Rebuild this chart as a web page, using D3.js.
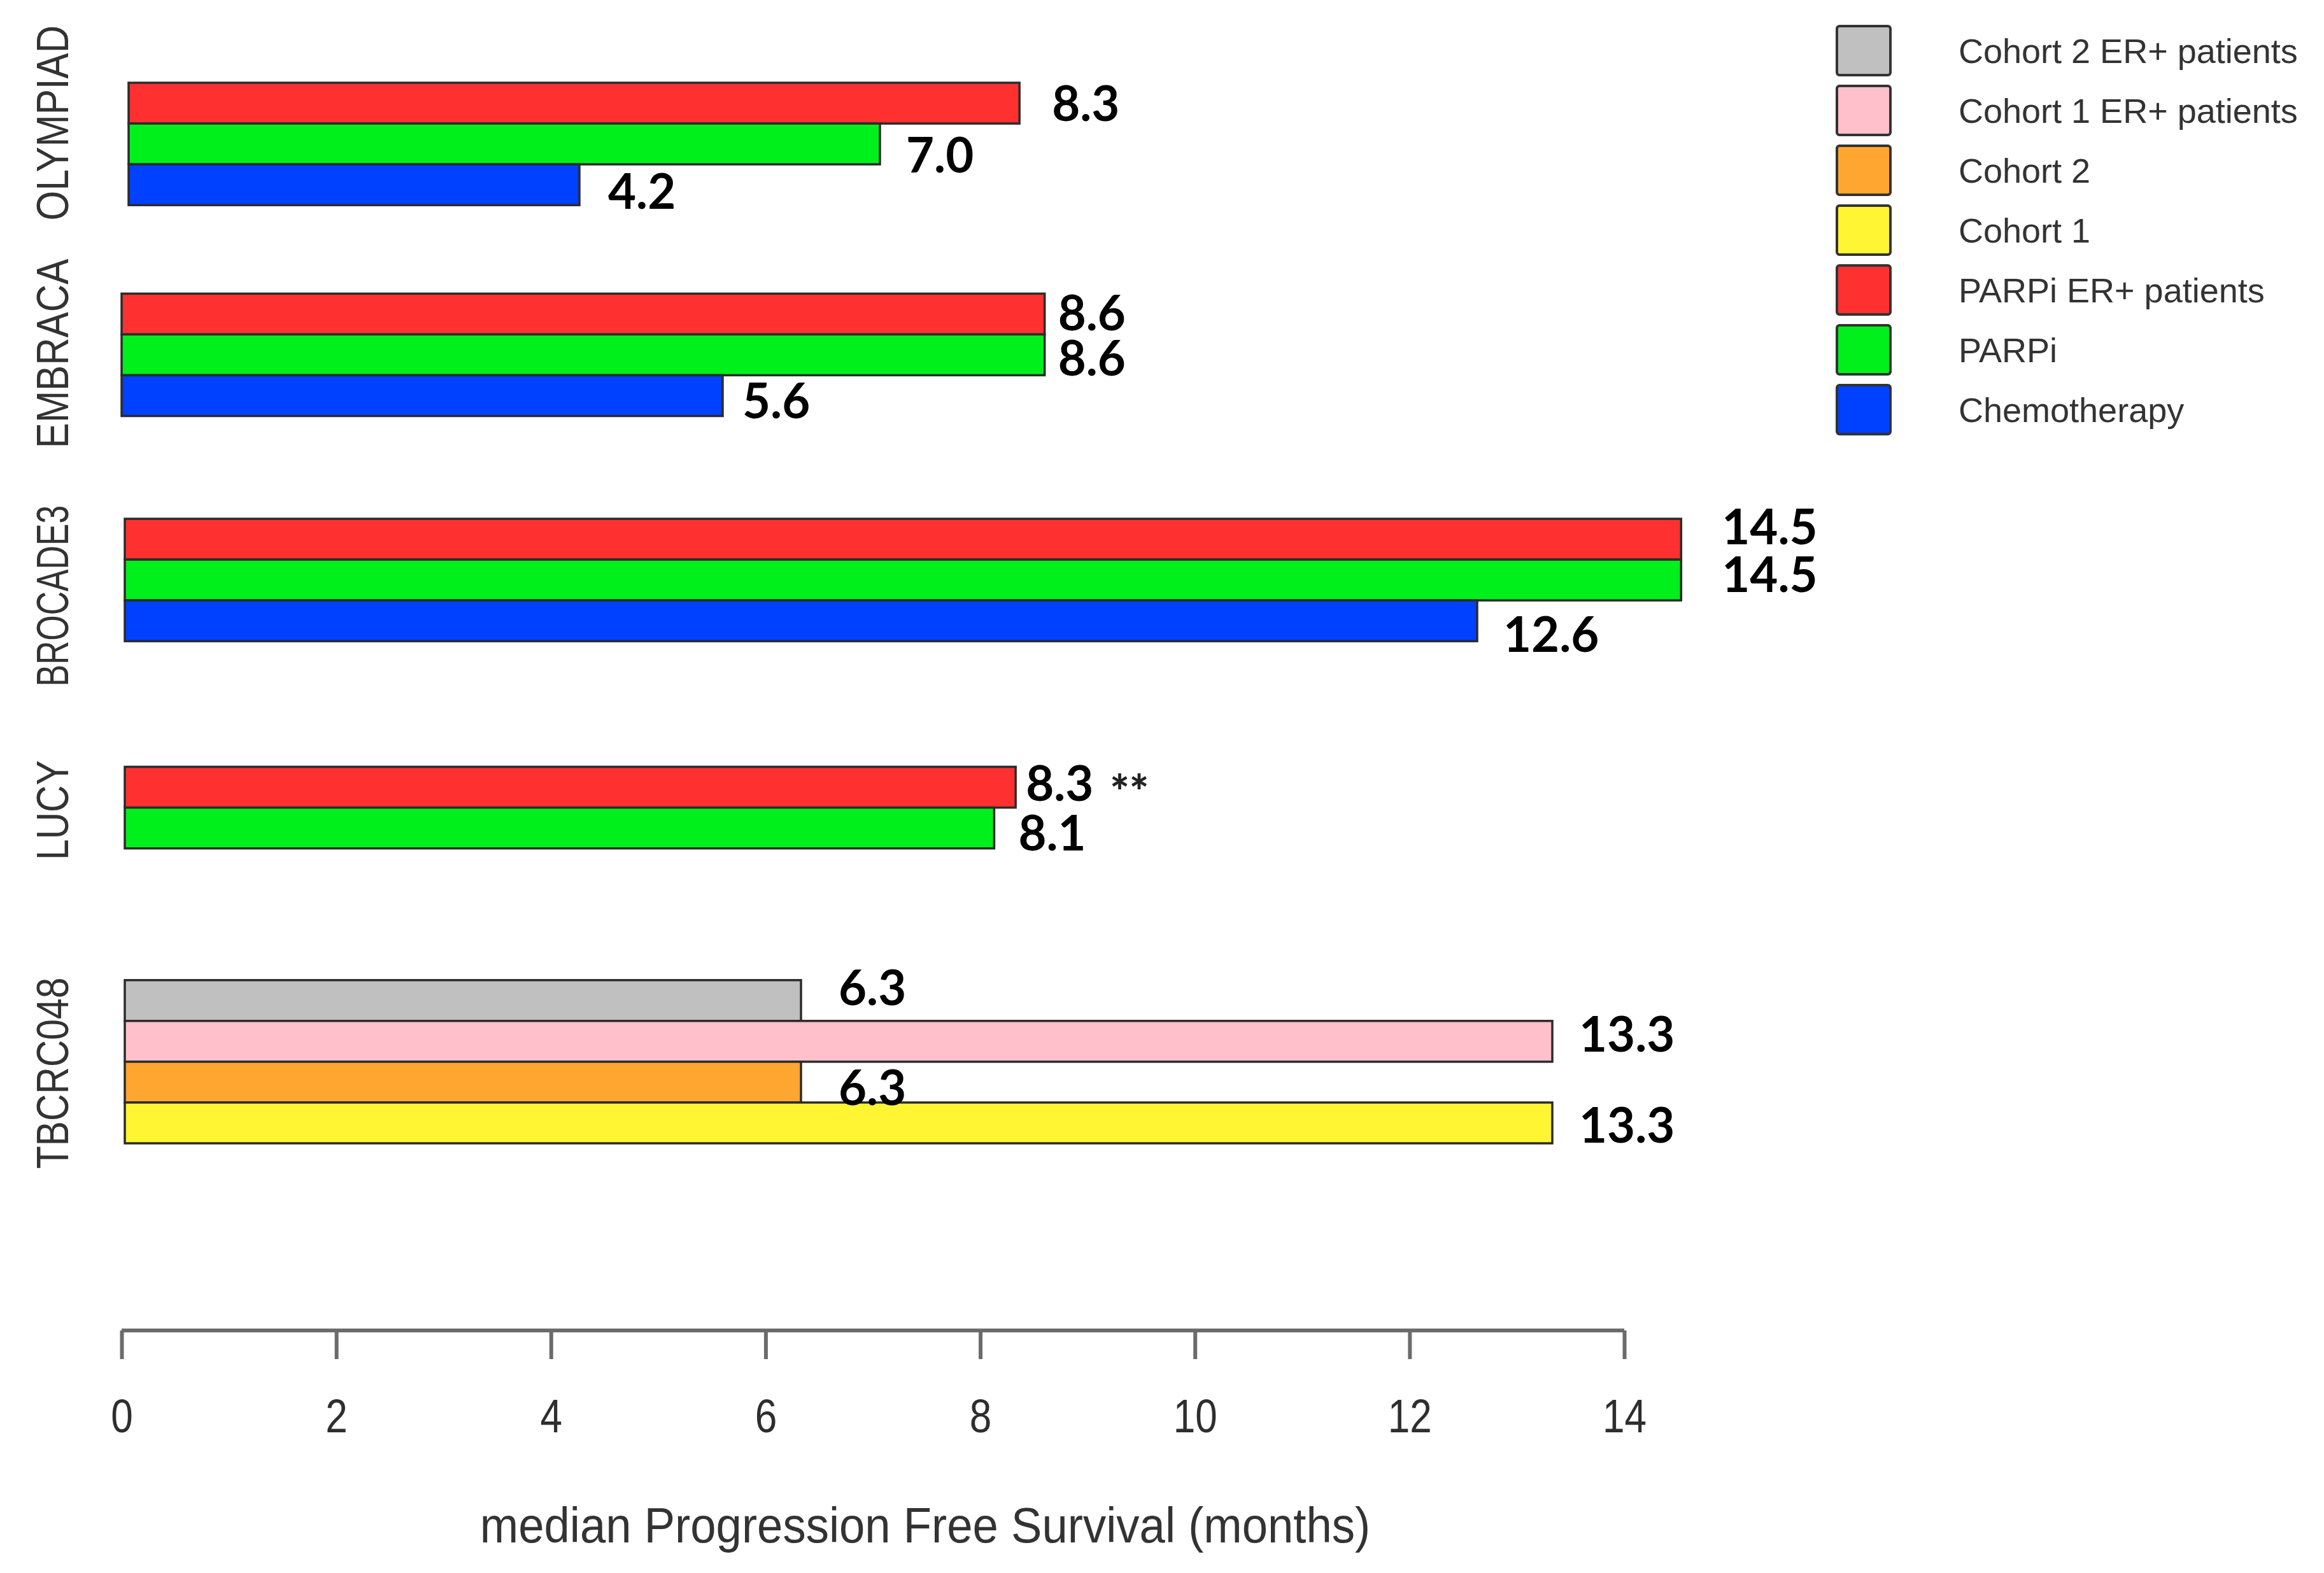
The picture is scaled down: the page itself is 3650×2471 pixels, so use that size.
<!DOCTYPE html>
<html>
<head>
<meta charset="utf-8">
<script src="https://cdn.jsdelivr.net/npm/d3@7"></script>
<style>
  html, body { margin: 0; padding: 0; background: #fff; }
  svg { display: block; }
</style>
</head>
<body>
<div id="chart"></div>
<script>
/* median PFS by trial — horizontal grouped bars */

// Trials, top to bottom
var STUDIES = ["OLYMPIAD", "EMBRACA", "BROCADE3", "LUCY", "TBCRC048"];

// Series shown in each trial (bar order top to bottom)
var STUDY_SERIES = [
  ["PARPi ER+ patients", "PARPi", "Chemotherapy"],
  ["PARPi ER+ patients", "PARPi", "Chemotherapy"],
  ["PARPi ER+ patients", "PARPi", "Chemotherapy"],
  ["PARPi ER+ patients", "PARPi"],
  ["Cohort 2 ER+ patients", "Cohort 1 ER+ patients", "Cohort 2", "Cohort 1"]
];

// median PFS in months, same order as STUDY_SERIES
var STUDY_VALUES = [
  [8.3, 7.0, 4.2],
  [8.6, 8.6, 5.6],
  [14.5, 14.5, 12.6],
  [8.3, 8.1],
  [6.3, 13.3, 6.3, 13.3]
];

// footnote marks next to a value ("" = none)
var STUDY_NOTES = [
  ["", "", ""],
  ["", "", ""],
  ["", "", ""],
  ["**", ""],
  ["", "", "", ""]
];

// legend order
var LEGEND_SERIES = ["Cohort 2 ER+ patients", "Cohort 1 ER+ patients", "Cohort 2", "Cohort 1",
                     "PARPi ER+ patients", "PARPi", "Chemotherapy"];

var X_TICKS = [0, 2, 4, 6, 8, 10, 12, 14];
var X_TITLE = "median Progression Free Survival (months)";

// ---- styling / layout (not data) ----
var COLORS = {
  "Cohort 2 ER+ patients": "#c0c0c0",
  "Cohort 1 ER+ patients": "#ffc0cb",
  "Cohort 2": "#ffa630",
  "Cohort 1": "#fff533",
  "PARPi ER+ patients": "#ff3030",
  "PARPi": "#00f01c",
  "Chemotherapy": "#0040ff"
};
// empty rows (in bar heights) after each trial
var GROUP_GAPS = [2.17, 2.52, 3.08, 3.23, 0];
// the panels were pasted together slightly off the axis zero (px)
var STUDY_X_SHIFT = [11, 0, 5, 5, 5];
// hand nudges of the annotations, [dx, dy] in px
var LABEL_NUDGE = [
  [[51, 0], [41, 17], [45, 10]],
  [[21, -2], [21, 5], [31, 8]],
  [[64, -20], [64, -9], [41, 21]],
  [[16, -7], [38, 7]],
  [[59, -21], [42, -12], [59, 8], [42, 3]]
];
var STUDY_LABEL_NUDGE = [-33, -2, 25, 4, 18];
var STUDY_LABEL_SQUEEZE = [0.86, 0.86, 0.74, 0.84, 0.84];

var W = 3650, H = 2471;
var FONT = "'Liberation Sans', Arial, Helvetica, sans-serif";
var NUM_FONT = "Lato, 'Open Sans', 'Liberation Sans', sans-serif";

var svg = d3.select("#chart").append("svg")
  .attr("width", W).attr("height", H)
  .attr("viewBox", "0 0 " + W + " " + H)
  .style("background", "#fff");

var x = d3.scaleLinear().domain([0, 14]).range([191, 2551]);

// row layout: each bar is one row, gaps between trials
var rowStart = [];
var row = 0;
STUDIES.forEach(function(s, i) {
  rowStart.push(row);
  row += STUDY_VALUES[i].length + GROUP_GAPS[i];
});
var y = d3.scaleLinear().domain([0, row]).range([130, 1796]);
var barH = y(1) - y(0);

var bars = svg.append("g").attr("class", "bars");
var labels = svg.append("g").attr("class", "labels");

STUDIES.forEach(function(study, i) {
  var vals = STUDY_VALUES[i];
  var sx = STUDY_X_SHIFT[i];
  var g = bars.append("g").attr("class", "study")
    .attr("transform", "translate(" + sx + ",0)");

  g.selectAll("rect")
    .data(vals)
    .enter().append("rect")
    .attr("x", x(0))
    .attr("y", function(d, j) { return y(rowStart[i] + j); })
    .attr("width", function(d) { return x(d) - x(0); })
    .attr("height", barH)
    .attr("fill", function(d, j) { return COLORS[STUDY_SERIES[i][j]]; })
    .attr("stroke", "#2b2b2b")
    .attr("stroke-width", 3.5);

  // value labels
  vals.forEach(function(v, j) {
    var nud = LABEL_NUDGE[i][j];
    var cy = y(rowStart[i] + j + 0.5) + nud[1];
    var tx = x(v) + sx + nud[0];
    labels.append("text")
      .attr("x", tx)
      .attr("y", cy + 28)
      .attr("font-family", NUM_FONT)
      .attr("font-weight", 700)
      .attr("font-size", 76)
      .attr("fill", "#000")
      .text(d3.format(".1f")(v));
    if (STUDY_NOTES[i][j]) {
      labels.append("text")
        .attr("x", tx + 132)
        .attr("y", cy + 40)
        .attr("font-family", NUM_FONT)
        .attr("font-weight", 900)
        .attr("font-size", 72)
        .attr("fill", "#222")
        .text(STUDY_NOTES[i][j]);
    }
  });

  // rotated trial name
  var cyLab = y(rowStart[i] + vals.length / 2) + STUDY_LABEL_NUDGE[i];
  svg.append("text")
    .attr("transform", "translate(82," + cyLab + ") rotate(-90) scale(" + STUDY_LABEL_SQUEEZE[i] + ",1)")
    .attr("text-anchor", "middle")
    .attr("dy", "0.36em")
    .attr("font-family", FONT)
    .attr("font-size", 70)
    .attr("fill", "#333")
    .text(study);
});

// x axis (R style: detached, ticks pointing down)
var axisY = 2090;
var axis = d3.axisBottom(x).tickValues(X_TICKS).tickSize(45).tickPadding(62).tickSizeOuter(0)
  .tickFormat(d3.format("d"));
var ax = svg.append("g").attr("transform", "translate(0," + axisY + ")").call(axis);
ax.select(".domain").attr("stroke", "#6b6b6b").attr("stroke-width", 6)
  .attr("d", "M" + x(0) + ",0H" + x(14));
ax.selectAll(".tick line").attr("stroke", "#6b6b6b").attr("stroke-width", 6);
ax.selectAll(".tick text")
  .attr("font-family", FONT)
  .attr("font-size", 74)
  .attr("fill", "#2e2e2e")
  .attr("transform", "scale(0.84,1)");

svg.append("text")
  .attr("transform", "translate(1453,2423) scale(0.93,1)")
  .attr("text-anchor", "middle")
  .attr("font-family", FONT)
  .attr("font-size", 78)
  .attr("fill", "#333")
  .text(X_TITLE);

// legend
var leg = svg.append("g").attr("class", "legend");
var legItems = leg.selectAll("g")
  .data(LEGEND_SERIES)
  .enter().append("g")
  .attr("transform", function(d, i) { return "translate(2885," + (41 + i * 94) + ")"; });
legItems.append("rect")
  .attr("width", 84).attr("height", 77)
  .attr("rx", 4)
  .attr("fill", function(d) { return COLORS[d]; })
  .attr("stroke", "#333")
  .attr("stroke-width", 4);
legItems.append("text")
  .attr("x", 191)
  .attr("y", 38.5)
  .attr("dy", "0.36em")
  .attr("font-family", FONT)
  .attr("font-size", 54)
  .attr("fill", "#333")
  .text(function(d) { return d; });
</script>
</body>
</html>
